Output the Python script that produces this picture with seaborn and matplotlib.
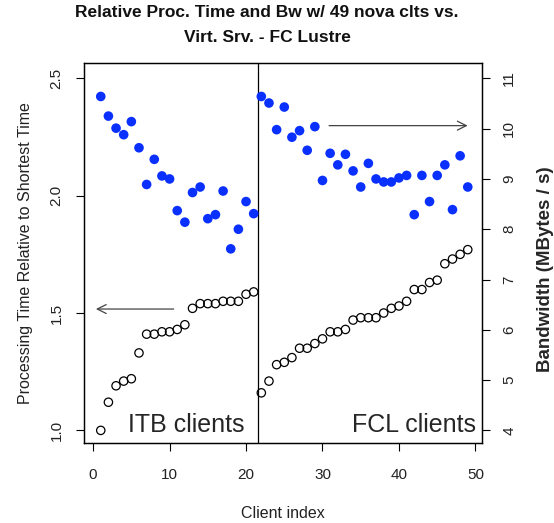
import matplotlib
matplotlib.use('Agg')
import numpy as np
import pandas as pd
import matplotlib.pyplot as plt
import seaborn as sns

# ── data ─────────────────────────────────────────────────────────────────────

client_index = list(range(1, 50))

# relative processing time (left axis, open circles)
proc_time = [
    1.00, 1.12, 1.19, 1.21, 1.22, 1.33, 1.41, 1.41, 1.42, 1.42,
    1.43, 1.45, 1.52, 1.54, 1.54, 1.54, 1.55, 1.55, 1.55, 1.58,
    1.59, 1.16, 1.21, 1.28, 1.29, 1.31, 1.35, 1.35, 1.37, 1.39,
    1.42, 1.42, 1.43, 1.47, 1.48, 1.48, 1.48, 1.50, 1.52, 1.53,
    1.55, 1.60, 1.60, 1.63, 1.64, 1.71, 1.73, 1.75, 1.77,
]

# bandwidth MBytes/s (right axis, blue dots)
bandwidth = [
    10.64, 10.25, 10.01, 9.88, 10.14, 9.62, 8.89, 9.39, 9.06, 9.00,
    8.37, 8.14, 8.73, 8.84, 8.21, 8.29, 8.76, 7.61, 8.00, 8.55,
    8.31, 10.64, 10.51, 9.98, 10.43, 9.83, 9.96, 9.57, 10.04, 8.97,
    9.51, 9.28, 9.49, 9.16, 8.84, 9.31, 9.00, 8.94, 8.94, 9.02,
    9.07, 8.29, 9.07, 8.55, 9.07, 9.28, 8.39, 9.46, 8.84,
]

x_ticks = [0, 10, 20, 30, 40, 50]
left_ticks = [1.0, 1.5, 2.0, 2.5]
right_ticks = [4, 5, 6, 7, 8, 9, 10, 11]

df = pd.DataFrame({'client': client_index, 'proc': proc_time, 'bw': bandwidth})

sns.set_style('white')
plt.rcParams['font.family'] = ['Liberation Sans', 'DejaVu Sans']

fig = plt.figure(figsize=(5.54, 5.23), dpi=100)
ax = fig.add_axes([0.1522, 0.1524, 0.717, 0.7266])
ax2 = ax.twinx()

sns.scatterplot(data=df, x='client', y='proc', ax=ax, s=36,
                facecolor='none', edgecolor='black', linewidth=0.9, zorder=3)
sns.scatterplot(data=df, x='client', y='bw', ax=ax2, s=48,
                color='#0a30ff', edgecolor='none', linewidth=0, zorder=3)

ax.set_xlim(-1.15, 50.8)
ax.set_ylim(0.945, 2.564)
ax2.set_ylim(3.743, 11.30)

ax.axvline(21.5, color='black', lw=0.9)

ax.set_xticks(x_ticks)
ax.set_yticks(left_ticks)
ax.set_yticklabels([f'{t:.1f}' for t in left_ticks])
ax2.set_yticks(right_ticks)

for a in (ax, ax2):
    for sp in a.spines.values():
        sp.set_visible(True)
        sp.set_color('black')
        sp.set_linewidth(0.9)
    a.tick_params(direction='out', length=6, width=0.8, colors='black',
                  labelcolor='#222222', labelsize=11, pad=9)
ax.tick_params(axis='y', right=False, left=True)
ax.tick_params(axis='x', bottom=True, pad=12)
ax2.tick_params(axis='y', right=True)
plt.setp(ax.get_yticklabels(), rotation=90, va='center')
plt.setp(ax2.get_yticklabels(), rotation=90, va='center')

ax.set_xlabel('Client index', fontsize=11.5, labelpad=17, color='#222222')
ax.set_ylabel('Processing Time Relative to Shortest Time', fontsize=11.5,
              labelpad=12, color='#222222')
ax2.set_ylabel('Bandwidth (MBytes / s)', fontsize=13.5, fontweight='bold',
               rotation=90, va='center', ha='center')
ax2.yaxis.set_label_coords(1.161, 0.459)

# arrows pointing to the axis each series belongs to
ax.annotate('', xy=(0.0, 1.517), xytext=(10.9, 1.517),
            arrowprops=dict(arrowstyle='->', color='#444444', lw=0.9,
                            mutation_scale=16))
ax2.annotate('', xy=(49.35, 10.06), xytext=(30.5, 10.06),
             arrowprops=dict(arrowstyle='->', color='#444444', lw=0.9,
                             mutation_scale=16))

ax.text(4.55, 0.993, 'ITB clients', fontsize=18, va='baseline', ha='left')
ax.text(50.1, 0.993, 'FCL clients', fontsize=18, va='baseline', ha='right')

fig.suptitle('Relative Proc. Time and Bw w/ 49 nova clts vs.\nVirt. Srv. - FC Lustre',
             x=0.482, y=0.99, va='top', fontsize=12.5, fontweight='bold',
             linespacing=1.8, color='#111111')

fig.savefig('out.png', dpi=100)
